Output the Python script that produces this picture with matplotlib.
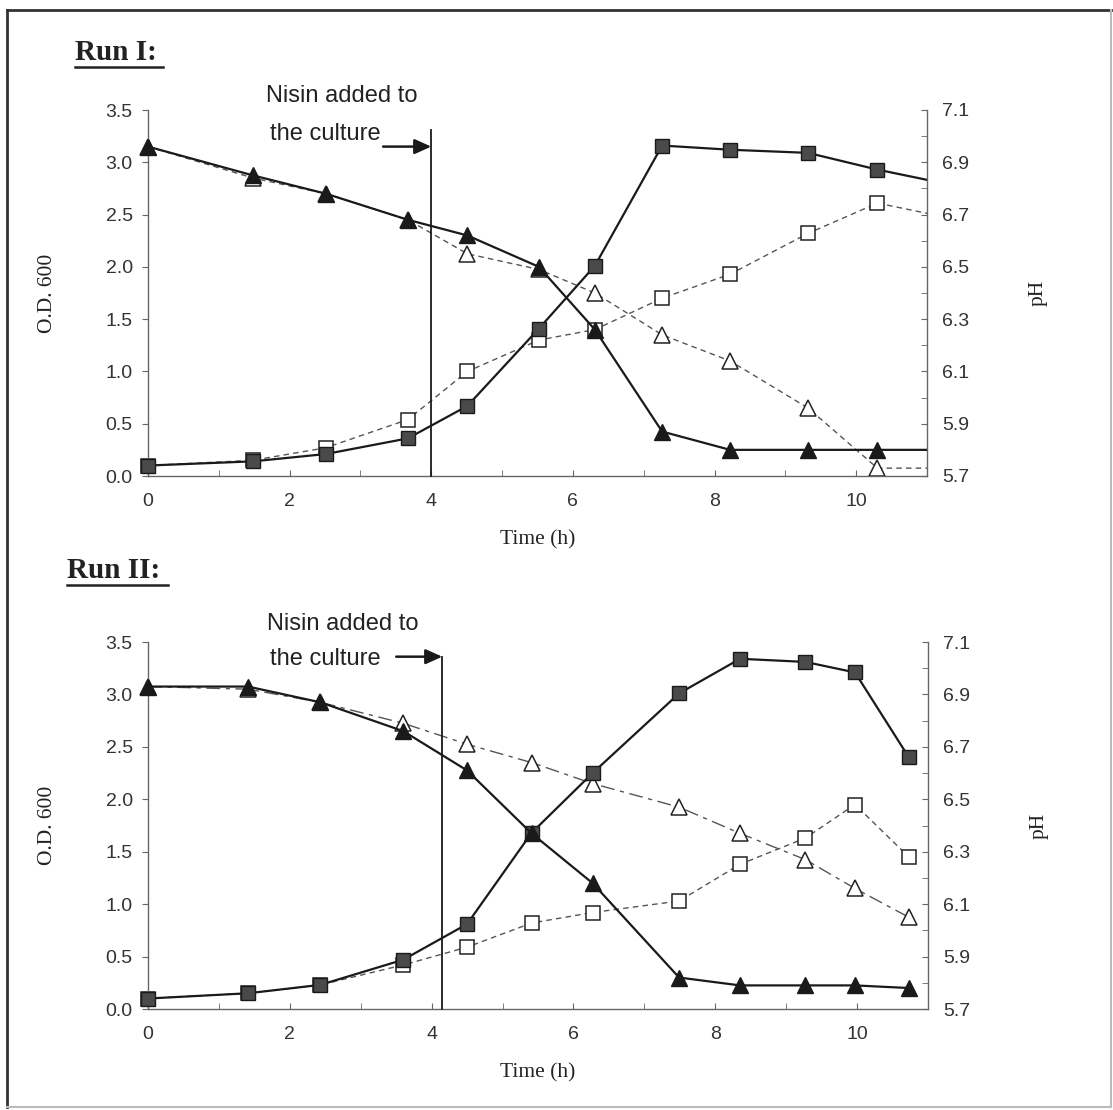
import numpy as np
import matplotlib
matplotlib.use("Agg")
import matplotlib.pyplot as plt
from matplotlib.lines import Line2D
from matplotlib.ticker import MultipleLocator
from matplotlib.transforms import Bbox, TransformedBbox

# Run I data (time in h, O.D. 600 and pH); last point lies past the axis end
time_1 = [0, 1.48, 2.51, 3.67, 4.51, 5.52, 6.31, 7.26, 8.22, 9.32, 10.3, 11.3]
od_nisin_1 = [0.10, 0.14, 0.21, 0.36, 0.67, 1.41, 2.01, 3.16, 3.12, 3.09, 2.93, 2.79]
od_ctrl_1 = [0.10, 0.15, 0.27, 0.54, 1.00, 1.30, 1.40, 1.70, 1.93, 2.32, 2.61, 2.47]
ph_nisin_1 = [6.96, 6.85, 6.78, 6.68, 6.62, 6.50, 6.26, 5.87, 5.80, 5.80, 5.80, 5.80]
ph_ctrl_1 = [6.96, 6.84, 6.78, 6.68, 6.55, 6.49, 6.40, 6.24, 6.14, 5.96, 5.73, 5.73]

# Run II data
time_2 = [0, 1.41, 2.43, 3.60, 4.50, 5.41, 6.27, 7.49, 8.35, 9.27, 9.97, 10.73]
od_nisin_2 = [0.10, 0.15, 0.23, 0.47, 0.81, 1.68, 2.25, 3.01, 3.34, 3.31, 3.21, 2.40]
od_ctrl_2 = [0.10, 0.15, 0.23, 0.42, 0.59, 0.82, 0.92, 1.03, 1.38, 1.63, 1.95, 1.45]
ph_nisin_2 = [6.93, 6.93, 6.87, 6.76, 6.61, 6.37, 6.18, 5.82, 5.79, 5.79, 5.79, 5.78]
ph_ctrl_2 = [6.93, 6.92, 6.87, 6.79, 6.71, 6.64, 6.56, 6.47, 6.37, 6.27, 6.16, 6.05]

nisin_time = [4.0, 4.15]
run_titles = ["Run I:", "Run II:"]

W, H = 1113, 1110
fig = plt.figure(figsize=(W / 100, H / 100), dpi=100)

sans = "Liberation Sans"
serif = "Liberation Serif"
axis_col = "#666666"
text_col = "#222222"


def px_rect(left, top, right, bottom):
    return [left / W, 1 - bottom / H, (right - left) / W, (bottom - top) / H]


def ph_to_od(ph):
    # left and right axes share the frame: 5.7..7.1 pH matches 0..3.5 O.D.
    return [(v - 5.7) / 0.4 for v in ph]


def clip_wide(ax, line):
    # let markers at t=0 show in full, but still cut at the right axis
    box = TransformedBbox(Bbox([[-0.05, -0.05], [1.0, 1.05]]), ax.transAxes)
    line.set_clip_box(box)


def draw_run(rect, t, od_n, od_c, ph_n, ph_c, ph_style):
    ax = fig.add_axes(rect)
    ax2 = ax.twinx()
    ax.set_zorder(ax2.get_zorder() + 1)
    ax.patch.set_visible(False)

    # dashed control series
    l1, = ax.plot(t, od_c, ls=(0, (4, 3)), color="#555555", lw=1.0,
                  marker="s", ms=10.5, mfc="white", mec="#222222", mew=1.1, zorder=2)
    l2, = ax.plot(t, ph_to_od(ph_c), ls=ph_style, color="#555555", lw=1.0,
                  marker="^", ms=11, mfc="white", mec="#222222", mew=1.1, zorder=2)
    # solid nisin series
    l3, = ax.plot(t, od_n, ls="-", color="#1a1a1a", lw=1.6,
                  marker="s", ms=10, mfc="#4a4a4a", mec="#1a1a1a", mew=1.0, zorder=3)
    l4, = ax.plot(t, ph_to_od(ph_n), ls="-", color="#1a1a1a", lw=1.6,
                  marker="^", ms=11, mfc="#1a1a1a", mec="#1a1a1a", zorder=3)
    for ln in (l1, l2, l3, l4):
        clip_wide(ax, ln)

    ax.set_xlim(0, 11)
    ax.set_ylim(0, 3.5)
    ax2.set_ylim(5.7, 7.1)
    ax.xaxis.set_major_locator(MultipleLocator(2))
    ax.xaxis.set_minor_locator(MultipleLocator(1))
    ax.set_yticks(np.arange(0, 3.51, 0.5))
    ax.set_yticklabels([f"{v:.1f}" for v in np.arange(0, 3.51, 0.5)])
    ax2.set_yticks(np.arange(5.7, 7.11, 0.2))
    ax2.set_yticklabels([f"{v:.1f}" for v in np.arange(5.7, 7.11, 0.2)])
    ax2.yaxis.set_minor_locator(MultipleLocator(0.1))

    for a in (ax, ax2):
        a.spines["top"].set_visible(False)
        for s in ("left", "right", "bottom"):
            a.spines[s].set_color(axis_col)
            a.spines[s].set_linewidth(1.0)
    ax.spines["right"].set_visible(False)
    ax2.spines["left"].set_visible(False)
    ax2.spines["bottom"].set_visible(False)

    ax.tick_params(axis="x", which="both", direction="in", length=4,
                   color=axis_col, labelsize=14, pad=12)
    ax.tick_params(axis="y", direction="out", length=4, color=axis_col,
                   labelsize=14, pad=7)
    ax2.tick_params(axis="y", which="both", direction="in", length=4,
                    color=axis_col, labelsize=14, pad=11)
    for lab in ax.get_xticklabels() + ax.get_yticklabels() + ax2.get_yticklabels():
        lab.set_fontfamily(sans)
        lab.set_color("#333333")

    ax.set_xlabel("Time (h)", fontfamily=serif, fontsize=15.5, color=text_col)
    ax.xaxis.set_label_coords(0.50, -0.147)
    ax.set_ylabel("O.D. 600", fontfamily=serif, fontsize=15.5, color=text_col)
    ax.yaxis.set_label_coords(-0.117, 0.5)
    ax2.set_ylabel("pH", fontfamily=serif, fontsize=15.5, color=text_col,
                   rotation=90)
    ax2.yaxis.set_label_coords(1.13, 0.5)
    return ax


arrow_props = dict(arrowstyle="-|>,head_length=1.0,head_width=0.45",
                   color="#1a1a1a", lw=1.8, shrinkA=0, shrinkB=0)

# Run I
ax_a = draw_run(px_rect(148, 110, 927, 476), time_1, od_nisin_1, od_ctrl_1,
                ph_nisin_1, ph_ctrl_1, (0, (4, 3)))
ax_a.plot([nisin_time[0], nisin_time[0]], [0, 3.31], color="#1a1a1a", lw=1.3,
          zorder=4, clip_on=False)
ax_a.annotate("", xy=(nisin_time[0], 3.15), xytext=(3.32, 3.15),
              arrowprops=arrow_props, annotation_clip=False, zorder=5)
ax_a.text(2.74, 3.63, "Nisin added to", fontfamily=sans, fontsize=17,
          ha="center", va="center", color=text_col)
ax_a.text(2.5, 3.27, "the culture", fontfamily=sans, fontsize=17,
          ha="center", va="center", color=text_col)

# Run II
ax_b = draw_run(px_rect(148, 642, 928, 1009), time_2, od_nisin_2, od_ctrl_2,
                ph_nisin_2, ph_ctrl_2, (0, (10, 4, 3, 4)))
ax_b.plot([nisin_time[1], nisin_time[1]], [0, 3.36], color="#1a1a1a", lw=1.3,
          zorder=4, clip_on=False)
ax_b.annotate("", xy=(nisin_time[1], 3.36), xytext=(3.5, 3.36),
              arrowprops=arrow_props, annotation_clip=False, zorder=5)
ax_b.text(2.74, 3.67, "Nisin added to", fontfamily=sans, fontsize=17,
          ha="center", va="center", color=text_col)
ax_b.text(2.5, 3.34, "the culture", fontfamily=sans, fontsize=17,
          ha="center", va="center", color=text_col)

# Run titles, bold and underlined
for (x0, y0, x1), title in zip([(75, 53, 163), (67, 571, 168)], run_titles):
    fig.text(x0 / W, 1 - y0 / H, title, fontfamily=serif, fontweight="bold",
             fontsize=21, ha="left", va="center", color=text_col)
    fig.add_artist(Line2D([x0 / W, x1 / W], [1 - (y0 + 14) / H] * 2,
                          color=text_col, lw=1.8))

# outer frame
fig.add_artist(Line2D([7 / W, 7 / W], [1 - 10 / H, 1 - 1107 / H], color="#333333", lw=2))
fig.add_artist(Line2D([7 / W, 1111 / W], [1 - 10 / H, 1 - 10 / H], color="#333333", lw=2))
fig.add_artist(Line2D([1111 / W, 1111 / W], [1 - 10 / H, 1 - 1107 / H], color="#bbbbbb", lw=1.5))
fig.add_artist(Line2D([7 / W, 1111 / W], [1 - 1107 / H, 1 - 1107 / H], color="#bbbbbb", lw=1.5))

fig.savefig("out.png", dpi=100, facecolor="white")
